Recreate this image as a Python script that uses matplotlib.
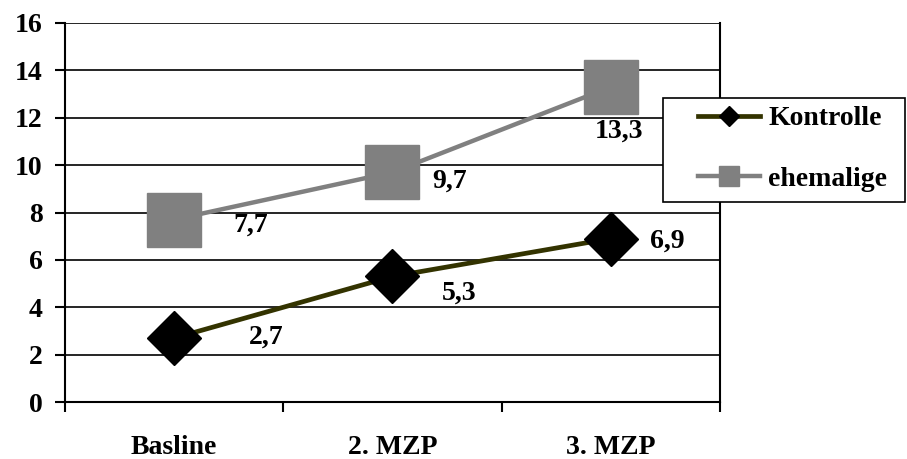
import numpy as np
import matplotlib.pyplot as plt
import matplotlib as mpl
from matplotlib.patches import Rectangle

categories = ["Basline", "2. MZP", "3. MZP"]
kontrolle = [2.7, 5.3, 6.9]
ehemalige = [7.7, 9.7, 13.3]
kontrolle_labels = ["2,7", "5,3", "6,9"]
ehemalige_labels = ["7,7", "9,7", "13,3"]

mpl.rc('font', family='Liberation Serif', weight='bold')

W, H = 907, 459
fig = plt.figure(figsize=(W/100, H/100), dpi=100)
ax = fig.add_axes([65/W, 1-402/H, (720-65)/W, (402-23)/H])

x = np.arange(len(categories))
ax.plot(x, kontrolle, color='#333300', lw=3.4, marker='D', ms=28,
        mfc='black', mec='black', label='Kontrolle', zorder=3)
ax.plot(x, ehemalige, color='#808080', lw=3.2, marker='s', ms=39.5,
        mfc='#808080', mec='#808080', label='ehemalige', zorder=3)

# data labels, offset in pixels from the marker (baseline of the text)
k_off = [(92, -6), (67, -23), (56, -9)]
e_off = [(77, -12), (57, -15), (8, -51)]
for xi, v, t, o in zip(x, kontrolle, kontrolle_labels, k_off):
    ax.annotate(t, (xi, v), xytext=o, textcoords='offset pixels',
                ha='center', va='baseline', fontsize=20, fontweight='bold', zorder=4)
for xi, v, t, o in zip(x, ehemalige, ehemalige_labels, e_off):
    ax.annotate(t, (xi, v), xytext=o, textcoords='offset pixels',
                ha='center', va='baseline', fontsize=20, fontweight='bold', zorder=4)

ax.set_xlim(-0.5, 2.5)
ax.set_ylim(0, 16)
ax.set_yticks(range(0, 17, 2))
ax.grid(axis='y', color='black', lw=1.2)
ax.set_axisbelow(True)

ax.set_xticks(x)
ax.set_xticklabels(categories, fontsize=20, fontweight='bold')
ax.set_xticks([-0.5, 0.5, 1.5, 2.5], minor=True)
ax.tick_params(axis='x', which='major', length=0, pad=24)
ax.tick_params(axis='x', which='minor', length=7, width=1.5, direction='out')
ax.tick_params(axis='y', length=7, width=1.5, direction='out', labelsize=20, pad=9)
for lab in ax.get_yticklabels():
    lab.set_fontweight('bold')

for s in ['left', 'bottom', 'right']:
    ax.spines[s].set_linewidth(1.5)
    ax.spines[s].set_color('black')
ax.spines['top'].set_visible(False)

# legend frame drawn separately so the handles can sit further in
frame = Rectangle((663/W, 1-202/H), (905-663)/W, (202-98)/H, transform=fig.transFigure,
                  facecolor='white', edgecolor='black', lw=1.2, zorder=2)
fig.patches.append(frame)
leg = fig.legend(loc='upper left', bbox_to_anchor=(698/W, 1-106/H),
                 borderaxespad=0, borderpad=0, frameon=False,
                 markerscale=0.37, handlelength=2.23, handletextpad=0.3,
                 labelspacing=1.27, prop={'size': 20, 'weight': 'bold'})
leg.set_zorder(5)

fig.savefig('out.png', dpi=100)
